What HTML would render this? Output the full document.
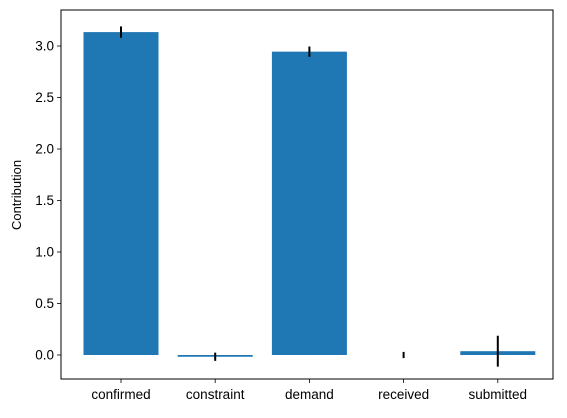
<!DOCTYPE html>
<html><head><meta charset="utf-8"><style>
body{margin:0;background:#fff;font-family:"Liberation Sans","DejaVu Sans",sans-serif}
</style></head><body>
<svg id="c" width="567" height="413" xmlns="http://www.w3.org/2000/svg"></svg>
<script>
const categories=["confirmed","constraint","demand","received","submitted"];
const values=[3.135,-0.017,2.945,0.0,0.037];
const errors=[0.055,0.04,0.05,0.03,0.15];
const yTicks=[0,0.5,1,1.5,2,2.5,3];
const yTickLabels=["0.0","0.5","1.0","1.5","2.0","2.5","3.0"];
const NS="http://www.w3.org/2000/svg";
const svg=document.getElementById('c');
const L=61,R=553,T=10,B=379;
const y=v=>355-v*103;
const x=i=>121+i*94.2;
const bw=75;
function mk(t,a,p){const e=document.createElementNS(NS,t);for(const k in a)e.setAttribute(k,a[k]);(p||svg).appendChild(e);return e;}
categories.forEach((c,i)=>{
 const v=values[i];
 const h=Math.abs(y(v)-y(0));
 const r=mk('rect',{x:x(i)-bw/2,y:Math.min(y(v),y(0)),width:bw,height:h<0.5?0:Math.max(h,1.5),fill:'#1f77b4'});
 
 
 const e=mk('line',{x1:x(i),x2:x(i),y1:y(v-errors[i]),y2:y(v+errors[i]),stroke:'#000','stroke-width':2});
 
 
 mk('line',{x1:x(i),x2:x(i),y1:B,y2:B+4,stroke:'#000','stroke-width':0.8});
 const t=mk('text',{x:x(i),y:B+20,'text-anchor':'middle','font-size':13.5,fill:'#000'});
 t.textContent=c;
 
 
});
yTicks.forEach((v,i)=>{
 mk('line',{x1:L-4,x2:L,y1:y(v),y2:y(v),stroke:'#000','stroke-width':0.8});
 const t=mk('text',{x:L-7,y:y(v)+4.5,'text-anchor':'end','font-size':13.5,fill:'#000'});
 t.textContent=yTickLabels[i];
 
 
});
const f=mk('rect',{x:L,y:T,width:R-L,height:B-T,fill:'none',stroke:'#000','stroke-width':1});


const yt=mk('text',{x:0,y:0,transform:'translate(21,195) rotate(-90)','text-anchor':'middle','font-size':13,fill:'#000'});
yt.textContent='Contribution';


</script>
</body></html>
